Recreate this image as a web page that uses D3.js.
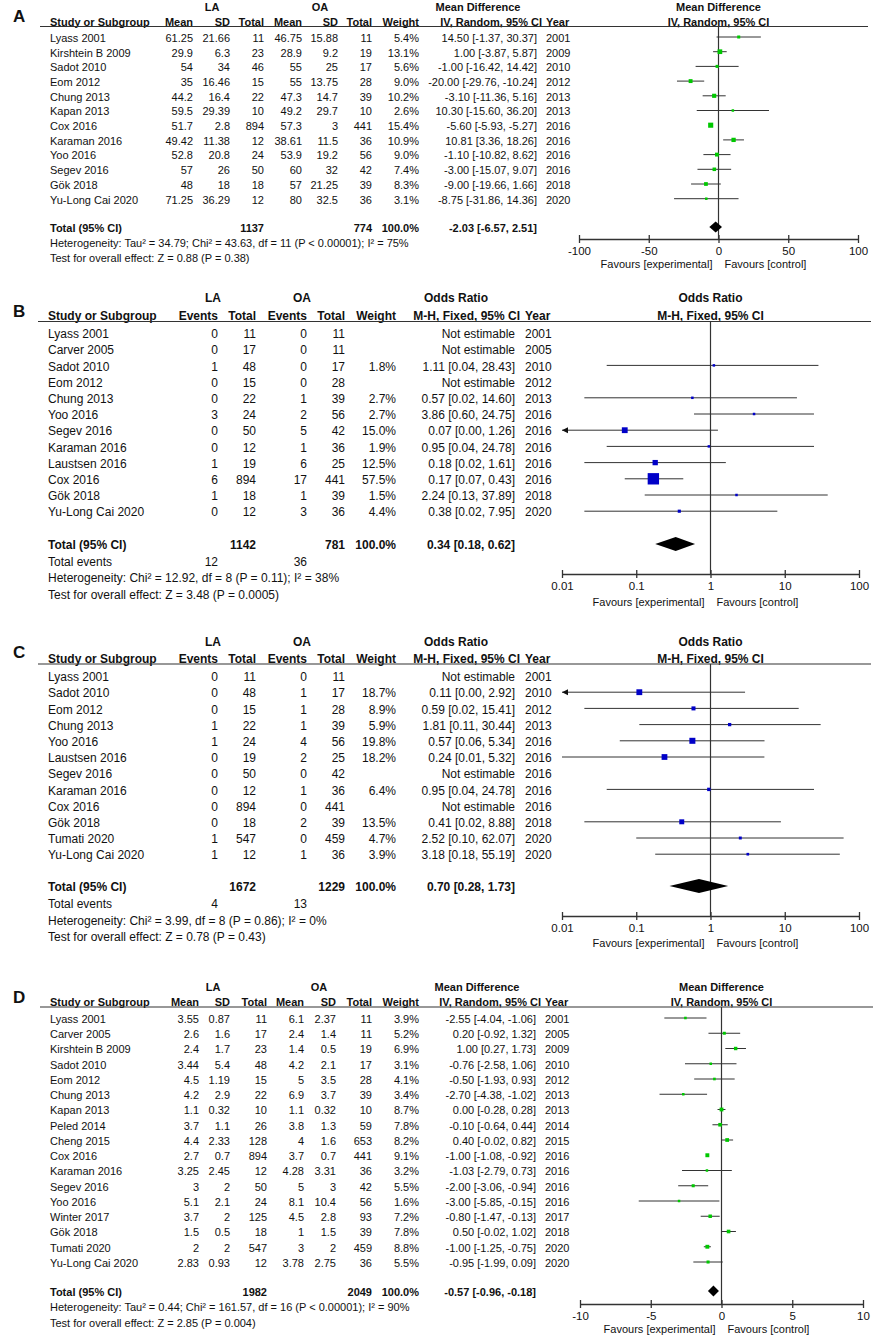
<!DOCTYPE html>
<html>
<head>
<meta charset="utf-8">
<script src="https://cdn.jsdelivr.net/npm/d3@7"></script>
<style>
  body { margin: 0; background: #fff; }
  text { font-family: "Liberation Sans", Arial, sans-serif; fill: #111; }
</style>
</head>
<body>
<div id="chart"></div>
<script>
// ---- panel A : mean difference (IV, random) ----
var studiesA = ["Lyass 2001","Kirshtein B 2009","Sadot 2010","Eom 2012","Chung 2013","Kapan 2013","Cox 2016","Karaman 2016","Yoo 2016","Segev 2016","Gök 2018","Yu-Long Cai 2020"];
var laMeanA = [61.25,29.9,54,35,44.2,59.5,51.7,49.42,52.8,57,48,71.25];
var laSdA = [21.66,6.3,34,16.46,16.4,29.39,2.8,11.38,20.8,26,18,36.29];
var laNA = [11,23,46,15,22,10,894,12,24,50,18,12];
var oaMeanA = [46.75,28.9,55,55,47.3,49.2,57.3,38.61,53.9,60,57,80];
var oaSdA = [15.88,9.2,25,13.75,14.7,29.7,3,11.5,19.2,32,21.25,32.5];
var oaNA = [11,19,17,28,39,10,441,36,56,42,39,36];
var weightA = [5.4,13.1,5.6,9.0,10.2,2.6,15.4,10.9,9.0,7.4,8.3,3.1];
var mdA = [14.50,1.00,-1.00,-20.00,-3.10,10.30,-5.60,10.81,-1.10,-3.00,-9.00,-8.75];
var loA = [-1.37,-3.87,-16.42,-29.76,-11.36,-15.60,-5.93,3.36,-10.82,-15.07,-19.66,-31.86];
var hiA = [30.37,5.87,14.42,-10.24,5.16,36.20,-5.27,18.26,8.62,9.07,1.66,14.36];
var yearA = [2001,2009,2010,2012,2013,2013,2016,2016,2016,2016,2018,2020];
var totalA = {la: 1137, oa: 774, est: -2.03, lo: -6.57, hi: 2.51};
var notesA = ["Heterogeneity: Tau² = 34.79; Chi² = 43.63, df = 11 (P < 0.00001); I² = 75%", "Test for overall effect: Z = 0.88 (P = 0.38)"];
var ticksA = [-100,-50,0,50,100];

// ---- panel B : odds ratio (M-H, fixed) ----
var studiesB = ["Lyass 2001","Carver 2005","Sadot 2010","Eom 2012","Chung 2013","Yoo 2016","Segev 2016","Karaman 2016","Laustsen 2016","Cox 2016","Gök 2018","Yu-Long Cai 2020"];
var laEvB = [0,0,1,0,0,3,0,0,1,6,1,0];
var laNB = [11,17,48,15,22,24,50,12,19,894,18,12];
var oaEvB = [0,0,0,0,1,2,5,1,6,17,1,3];
var oaNB = [11,11,17,28,39,56,42,36,25,441,39,36];
var weightB = [null,null,1.8,null,2.7,2.7,15.0,1.9,12.5,57.5,1.5,4.4];
var orB = [null,null,1.11,null,0.57,3.86,0.07,0.95,0.18,0.17,2.24,0.38];
var loB = [null,null,0.04,null,0.02,0.60,0.00,0.04,0.02,0.07,0.13,0.02];
var hiB = [null,null,28.43,null,14.60,24.75,1.26,24.78,1.61,0.43,37.89,7.95];
var yearB = [2001,2005,2010,2012,2013,2016,2016,2016,2016,2016,2018,2020];
var totalB = {la: 1142, oa: 781, est: 0.34, lo: 0.18, hi: 0.62, evLa: 12, evOa: 36};
var notesB = ["Heterogeneity: Chi² = 12.92, df = 8 (P = 0.11); I² = 38%", "Test for overall effect: Z = 3.48 (P = 0.0005)"];

// ---- panel C : odds ratio (M-H, fixed) ----
var studiesC = ["Lyass 2001","Sadot 2010","Eom 2012","Chung 2013","Yoo 2016","Laustsen 2016","Segev 2016","Karaman 2016","Cox 2016","Gök 2018","Tumati 2020","Yu-Long Cai 2020"];
var laEvC = [0,0,0,1,1,0,0,0,0,0,1,1];
var laNC = [11,48,15,22,24,19,50,12,894,18,547,12];
var oaEvC = [0,1,1,1,4,2,0,1,0,2,0,1];
var oaNC = [11,17,28,39,56,25,42,36,441,39,459,36];
var weightC = [null,18.7,8.9,5.9,19.8,18.2,null,6.4,null,13.5,4.7,3.9];
var orC = [null,0.11,0.59,1.81,0.57,0.24,null,0.95,null,0.41,2.52,3.18];
var loC = [null,0.00,0.02,0.11,0.06,0.01,null,0.04,null,0.02,0.10,0.18];
var hiC = [null,2.92,15.41,30.44,5.34,5.32,null,24.78,null,8.88,62.07,55.19];
var yearC = [2001,2010,2012,2013,2016,2016,2016,2016,2016,2018,2020,2020];
var totalC = {la: 1672, oa: 1229, est: 0.70, lo: 0.28, hi: 1.73, evLa: 4, evOa: 13};
var notesC = ["Heterogeneity: Chi² = 3.99, df = 8 (P = 0.86); I² = 0%", "Test for overall effect: Z = 0.78 (P = 0.43)"];
var ticksOR = [0.01,0.1,1,10,100];

// ---- panel D : mean difference (IV, random) ----
var studiesD = ["Lyass 2001","Carver 2005","Kirshtein B 2009","Sadot 2010","Eom 2012","Chung 2013","Kapan 2013","Peled 2014","Cheng 2015","Cox 2016","Karaman 2016","Segev 2016","Yoo 2016","Winter 2017","Gök 2018","Tumati 2020","Yu-Long Cai 2020"];
var laMeanD = [3.55,2.6,2.4,3.44,4.5,4.2,1.1,3.7,4.4,2.7,3.25,3,5.1,3.7,1.5,2,2.83];
var laSdD = [0.87,1.6,1.7,5.4,1.19,2.9,0.32,1.1,2.33,0.7,2.45,2,2.1,2,0.5,2,0.93];
var laND = [11,17,23,48,15,22,10,26,128,894,12,50,24,125,18,547,12];
var oaMeanD = [6.1,2.4,1.4,4.2,5,6.9,1.1,3.8,4,3.7,4.28,5,8.1,4.5,1,3,3.78];
var oaSdD = [2.37,1.4,0.5,2.1,3.5,3.7,0.32,1.3,1.6,0.7,3.31,3,10.4,2.8,1.5,2,2.75];
var oaND = [11,11,19,17,28,39,10,59,653,441,36,42,56,93,39,459,36];
var weightD = [3.9,5.2,6.9,3.1,4.1,3.4,8.7,7.8,8.2,9.1,3.2,5.5,1.6,7.2,7.8,8.8,5.5];
var mdD = [-2.55,0.20,1.00,-0.76,-0.50,-2.70,0.00,-0.10,0.40,-1.00,-1.03,-2.00,-3.00,-0.80,0.50,-1.00,-0.95];
var loD = [-4.04,-0.92,0.27,-2.58,-1.93,-4.38,-0.28,-0.64,-0.02,-1.08,-2.79,-3.06,-5.85,-1.47,-0.02,-1.25,-1.99];
var hiD = [-1.06,1.32,1.73,1.06,0.93,-1.02,0.28,0.44,0.82,-0.92,0.73,-0.94,-0.15,-0.13,1.02,-0.75,0.09];
var yearD = [2001,2005,2009,2010,2012,2013,2013,2014,2015,2016,2016,2016,2016,2017,2018,2020,2020];
var totalD = {la: 1982, oa: 2049, est: -0.57, lo: -0.96, hi: -0.18};
var notesD = ["Heterogeneity: Tau² = 0.44; Chi² = 161.57, df = 16 (P < 0.00001); I² = 90%", "Test for overall effect: Z = 2.85 (P = 0.004)"];
var ticksD = [-10,-5,0,5,10];

var svg = d3.select("#chart").append("svg")
    .attr("width", 877)
    .attr("height", 1339);

var lineColor = "#333";

function txt(g, x, y, s, opts){
  opts = opts || {};
  return g.append("text")
    .attr("x", x)
    .attr("y", y)
    .attr("dy", "0.35em")
    .attr("font-size", opts.fs || 11)
    .attr("font-weight", opts.bold ? "bold" : null)
    .attr("text-anchor", opts.anchor || "start")
    .text(s);
}

function fmtCI(e, l, h){
  return e.toFixed(2) + " [" + l.toFixed(2) + ", " + h.toFixed(2) + "]";
}

function drawPanel(p){
  var g = svg.append("g");
  var fs = p.fs;
  var n = p.studies.length;
  var rowY = function(i){ return p.row0 + i * p.step; };

  // panel letter
  txt(g, 13, p.labelY, p.label, {fs: 17, bold: true});

  // header line 1
  txt(g, p.laX, p.h1Y, "LA", {fs: fs, bold: true, anchor: "middle"});
  txt(g, p.oaX, p.h1Y, "OA", {fs: fs, bold: true, anchor: "middle"});
  txt(g, p.effX, p.h1Y, p.effName, {fs: fs, bold: true, anchor: "middle"});
  txt(g, p.x(p.nullVal), p.h1Y, p.effName, {fs: fs, bold: true, anchor: "middle"});

  // header line 2
  txt(g, p.studyX, p.h2Y, "Study or Subgroup", {fs: fs, bold: true});
  p.cols.forEach(function(c){
    txt(g, c.x, p.h2Y, c.head, {fs: fs, bold: true, anchor: "end"});
  });
  txt(g, p.methX, p.h2Y, p.method, {fs: fs, bold: true, anchor: "end"});
  txt(g, p.yearX, p.h2Y, "Year", {fs: fs, bold: true});
  txt(g, p.x(p.nullVal), p.h2Y, p.method, {fs: fs, bold: true, anchor: "middle"});

  g.append("line")
    .attr("x1", p.divX[0]).attr("x2", p.divX[1])
    .attr("y1", p.divY).attr("y2", p.divY)
    .attr("stroke", lineColor)
    .attr("stroke-width", 1.2);

  // study rows
  p.studies.forEach(function(s, i){
    var y = rowY(i);
    txt(g, p.studyX, y, s, {fs: fs});
    p.cols.forEach(function(c){
      var v = c.vals[i];
      if (v == null) return;
      txt(g, c.x, y, c.fmt ? c.fmt(v) : String(v), {fs: fs, anchor: "end"});
    });
    var ci = p.est[i] == null ? "Not estimable" : fmtCI(p.est[i], p.lo[i], p.hi[i]);
    txt(g, p.ciX, y, ci, {fs: fs, anchor: "end"});
    txt(g, p.yearX, y, p.year[i], {fs: fs});
  });

  // totals
  txt(g, p.studyX, p.totalY, "Total (95% CI)", {fs: fs, bold: true});
  txt(g, p.laTotX, p.totalY, p.total.la, {fs: fs, bold: true, anchor: "end"});
  txt(g, p.oaTotX, p.totalY, p.total.oa, {fs: fs, bold: true, anchor: "end"});
  txt(g, p.wX, p.totalY, "100.0%", {fs: fs, bold: true, anchor: "end"});
  txt(g, p.ciX, p.totalY, fmtCI(p.total.est, p.total.lo, p.total.hi), {fs: fs, bold: true, anchor: "end"});

  var ny = p.notesY;
  if (p.total.evLa != null) {
    txt(g, p.studyX, p.eventsY, "Total events", {fs: fs});
    txt(g, p.evLaX, p.eventsY, p.total.evLa, {fs: fs, anchor: "end"});
    txt(g, p.evOaX, p.eventsY, p.total.evOa, {fs: fs, anchor: "end"});
  }
  p.notes.forEach(function(t, k){
    txt(g, p.studyX, ny[k], t, {fs: fs});
  });

  // plot: null line
  var x = p.x;
  g.append("line")
    .attr("x1", x(p.nullVal)).attr("x2", x(p.nullVal))
    .attr("y1", p.divY).attr("y2", p.axisY)
    .attr("stroke", lineColor)
    .attr("stroke-width", 1.2);

  // CIs and markers
  var xmin = x.range()[0];
  p.studies.forEach(function(s, i){
    if (p.est[i] == null) return;
    var y = rowY(i) - 1;
    var lo = p.lo[i];
    var off = p.log ? lo <= 0 : lo < x.domain()[0];
    var x1 = off ? xmin : x(lo);
    g.append("line")
      .attr("x1", x1).attr("x2", x(p.hi[i]))
      .attr("y1", y).attr("y2", y)
      .attr("stroke", lineColor)
      .attr("stroke-width", 1);
    if (off) {
      g.append("path")
        .attr("d", "M" + xmin + "," + y + "l6,-3l0,6z")
        .attr("fill", "#111");
    }
    var side = Math.max(2.5, p.sq * Math.sqrt(p.weight[i]));
    g.append("rect")
      .attr("x", x(p.est[i]) - side / 2)
      .attr("y", y - side / 2)
      .attr("width", side)
      .attr("height", side)
      .attr("fill", p.color);
  });

  // diamond
  var dy = p.totalY - 1, dh = p.dh;
  g.append("path")
    .attr("d", "M" + x(p.total.lo) + "," + dy +
               "L" + x(p.total.est) + "," + (dy - dh) +
               "L" + x(p.total.hi) + "," + dy +
               "L" + x(p.total.est) + "," + (dy + dh) + "Z")
    .attr("fill", "#000");

  // axis
  var axis = d3.axisBottom(x)
    .tickValues(p.ticks)
    .tickSizeInner(4)
    .tickSizeOuter(0)
    .tickPadding(4)
    .tickFormat(function(d){ return String(d); });
  var ag = g.append("g")
    .attr("transform", "translate(0," + p.axisY + ")")
    .call(axis);
  ag.select(".domain").attr("stroke", lineColor).attr("stroke-width", 1.3);
  ag.selectAll(".tick line").attr("y1", -4).attr("y2", 4).attr("stroke", lineColor).attr("stroke-width", 1.3);
  ag.selectAll(".tick text")
    .attr("font-size", 11.5)
    .attr("font-family", "Liberation Sans, Arial, sans-serif")
    .attr("fill", "#111");

  var nx = x(p.nullVal);
  txt(g, nx - 6, p.favY, "Favours [experimental]", {fs: 11, anchor: "end"});
  txt(g, nx + 6, p.favY, "Favours [control]", {fs: 11});
}

var pct = function(v){ return v.toFixed(1) + "%"; };

// A
drawPanel({
  label: "A", labelY: 16, fs: 11,
  h1Y: 7, h2Y: 22, divY: 26.5, divX: [40, 868],
  row0: 38, step: 14.7, totalY: 228, notesY: [243, 258],
  laX: 212, oaX: 320, effX: 478, effName: "Mean Difference",
  method: "IV, Random, 95% CI", methX: 542, studyX: 50, yearX: 546,
  cols: [
    {head: "Mean", x: 193, vals: laMeanA}, {head: "SD", x: 230, vals: laSdA}, {head: "Total", x: 264, vals: laNA},
    {head: "Mean", x: 302, vals: oaMeanA}, {head: "SD", x: 338, vals: oaSdA}, {head: "Total", x: 372, vals: oaNA},
    {head: "Weight", x: 419, vals: weightA, fmt: pct}
  ],
  laTotX: 264, oaTotX: 372, wX: 419, ciX: 537,
  studies: studiesA, est: mdA, lo: loA, hi: hiA, year: yearA, weight: weightA, total: totalA, notes: notesA,
  x: d3.scaleLinear().domain([-100, 100]).range([579, 858]), nullVal: 0, ticks: ticksA, log: false,
  axisY: 239, favY: 264, color: "#00c800", sq: 1.3, dh: 5.5
});

// B
drawPanel({
  label: "B", labelY: 311, fs: 12,
  h1Y: 298, h2Y: 316, divY: 321.5, divX: [38, 871],
  row0: 334, step: 16.2, totalY: 545, eventsY: 562, notesY: [578, 595],
  laX: 213, oaX: 302, effX: 456, effName: "Odds Ratio",
  method: "M-H, Fixed, 95% CI", methX: 520, studyX: 48, yearX: 525,
  cols: [
    {head: "Events", x: 218, vals: laEvB}, {head: "Total", x: 256, vals: laNB},
    {head: "Events", x: 307, vals: oaEvB}, {head: "Total", x: 345, vals: oaNB},
    {head: "Weight", x: 396, vals: weightB, fmt: pct}
  ],
  laTotX: 256, oaTotX: 345, wX: 396, ciX: 515, evLaX: 218, evOaX: 307,
  studies: studiesB, est: orB, lo: loB, hi: hiB, year: yearB, weight: weightB, total: totalB, notes: notesB,
  x: d3.scaleLog().domain([0.01, 100]).range([562, 859]), nullVal: 1, ticks: ticksOR, log: true,
  axisY: 574, favY: 602, color: "#0000c8", sq: 1.5, dh: 7
});

// C
drawPanel({
  label: "C", labelY: 652, fs: 12,
  h1Y: 642, h2Y: 659, divY: 664, divX: [38, 871],
  row0: 677, step: 16.2, totalY: 887, eventsY: 904, notesY: [921, 937],
  laX: 213, oaX: 302, effX: 456, effName: "Odds Ratio",
  method: "M-H, Fixed, 95% CI", methX: 520, studyX: 48, yearX: 525,
  cols: [
    {head: "Events", x: 218, vals: laEvC}, {head: "Total", x: 256, vals: laNC},
    {head: "Events", x: 307, vals: oaEvC}, {head: "Total", x: 345, vals: oaNC},
    {head: "Weight", x: 396, vals: weightC, fmt: pct}
  ],
  laTotX: 256, oaTotX: 345, wX: 396, ciX: 515, evLaX: 218, evOaX: 307,
  studies: studiesC, est: orC, lo: loC, hi: hiC, year: yearC, weight: weightC, total: totalC, notes: notesC,
  x: d3.scaleLog().domain([0.01, 100]).range([562, 859]), nullVal: 1, ticks: ticksOR, log: true,
  axisY: 916, favY: 943, color: "#0000c8", sq: 1.35, dh: 7
});

// D
drawPanel({
  label: "D", labelY: 997, fs: 11,
  h1Y: 987, h2Y: 1002, divY: 1007, divX: [40, 873],
  row0: 1019, step: 15.25, totalY: 1292, notesY: [1307, 1323],
  laX: 213, oaX: 319, effX: 477, effName: "Mean Difference",
  method: "IV, Random, 95% CI", methX: 541, studyX: 50, yearX: 545,
  cols: [
    {head: "Mean", x: 199, vals: laMeanD}, {head: "SD", x: 230, vals: laSdD}, {head: "Total", x: 267, vals: laND},
    {head: "Mean", x: 304, vals: oaMeanD}, {head: "SD", x: 336, vals: oaSdD}, {head: "Total", x: 372, vals: oaND},
    {head: "Weight", x: 419, vals: weightD, fmt: pct}
  ],
  laTotX: 267, oaTotX: 372, wX: 419, ciX: 536,
  studies: studiesD, est: mdD, lo: loD, hi: hiD, year: yearD, weight: weightD, total: totalD, notes: notesD,
  x: d3.scaleLinear().domain([-10, 10]).range([580, 863]), nullVal: 0, ticks: ticksD, log: false,
  axisY: 1304, favY: 1329, color: "#00c800", sq: 1.3, dh: 5.5
});
</script>
</body>
</html>
